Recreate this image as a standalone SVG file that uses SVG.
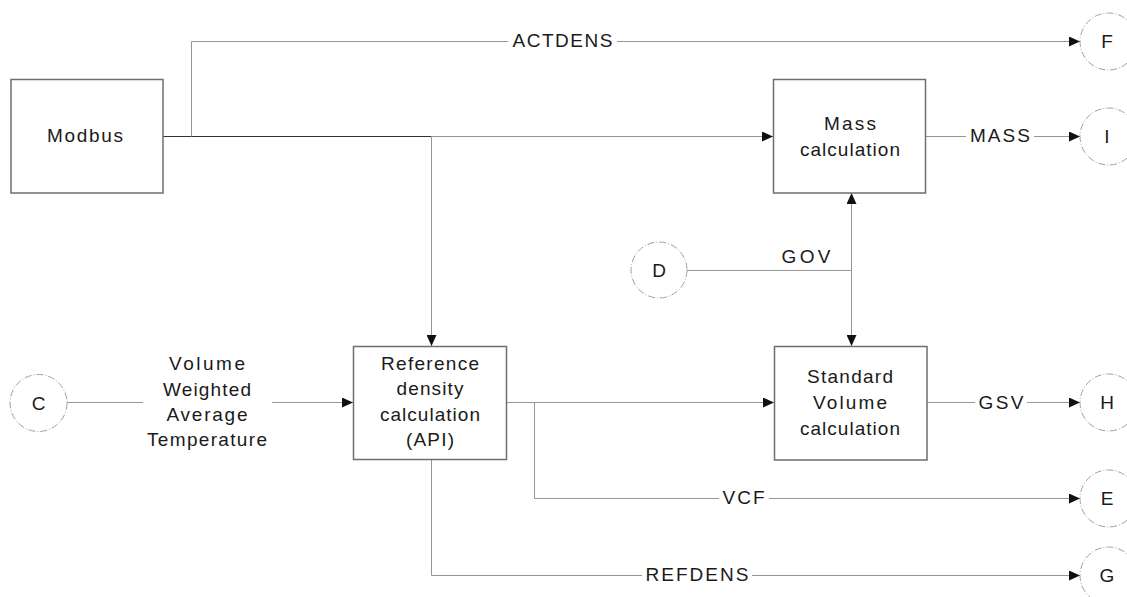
<svg xmlns="http://www.w3.org/2000/svg" width="1127" height="597" viewBox="0 0 1127 597">
<defs>
<marker id="arr" markerUnits="userSpaceOnUse" markerWidth="12" markerHeight="10" refX="11" refY="5" orient="auto">
<path d="M0,0 L11,5 L0,10 z" fill="#111"/>
</marker>
<style>
.box{fill:#fff;stroke:#6e6e6e;stroke-width:1.5}
.term{fill:#fff;stroke:#a0a0a0;stroke-width:1;stroke-dasharray:7 2 1 2}
.ln{fill:none;stroke:#959595;stroke-width:1}
.dk{fill:none;stroke:#333;stroke-width:1.2}
text{font-family:"Liberation Sans",Arial,sans-serif;font-size:19px;fill:#1a1a1a;text-anchor:middle}
</style>
</defs>
<rect width="1127" height="597" fill="#fff"/>
<g id="connectors">
<path class="dk" d="M163,136.5 H431.5"/>
<path class="ln" d="M431.5,136.5 H773" marker-end="url(#arr)"/>
<path class="ln" d="M191.5,136.5 V41.5 H508"/>
<path class="ln" d="M617,41.5 H1080" marker-end="url(#arr)"/>
<path class="ln" d="M431.5,136.5 V346" marker-end="url(#arr)"/>
<path class="ln" d="M926,136.5 H966"/>
<path class="ln" d="M1034,136.5 H1080" marker-end="url(#arr)"/>
<path class="ln" d="M687,270.5 H851.5"/>
<path class="ln" d="M851.5,270.5 V193" marker-end="url(#arr)"/>
<path class="ln" d="M851.5,270.5 V346" marker-end="url(#arr)"/>
<path class="ln" d="M67,402.5 H143"/>
<path class="ln" d="M272,402.5 H353" marker-end="url(#arr)"/>
<path class="ln" d="M506.5,402.5 H774" marker-end="url(#arr)"/>
<path class="ln" d="M534.5,402.5 V498.5 H719"/>
<path class="ln" d="M769,498.5 H1080" marker-end="url(#arr)"/>
<path class="ln" d="M431.5,459 V575.5 H642"/>
<path class="ln" d="M752,575.5 H1080" marker-end="url(#arr)"/>
<path class="ln" d="M927,402.5 H975"/>
<path class="ln" d="M1027,402.5 H1080" marker-end="url(#arr)"/>
<text x="562.5" y="46.5" textLength="100" lengthAdjust="spacing">ACTDENS</text>
<text x="1000" y="141.5" textLength="60" lengthAdjust="spacing">MASS</text>
<text x="806" y="262.5" textLength="49" lengthAdjust="spacing">GOV</text>
<text x="207" y="370" textLength="76" lengthAdjust="spacing">Volume</text>
<text x="207" y="395.5" textLength="88" lengthAdjust="spacing">Weighted</text>
<text x="207" y="420.5" textLength="81" lengthAdjust="spacing">Average</text>
<text x="207" y="446" textLength="120" lengthAdjust="spacing">Temperature</text>
<text x="1001" y="408.5" textLength="45" lengthAdjust="spacing">GSV</text>
<text x="743.5" y="504" textLength="42" lengthAdjust="spacing">VCF</text>
<text x="697" y="580.5" textLength="103" lengthAdjust="spacing">REFDENS</text>
</g>
<g id="modbus">
<rect class="box" x="11" y="79.5" width="152" height="113.5"/>
<text x="85" y="141.5" textLength="76" lengthAdjust="spacing">Modbus</text>
</g>
<g id="mass-calculation">
<rect class="box" x="773.5" y="79.5" width="152" height="113.5"/>
<text x="850" y="129.5" textLength="52" lengthAdjust="spacing">Mass</text>
<text x="850" y="155.5" textLength="100" lengthAdjust="spacing">calculation</text>
</g>
<g id="reference-density">
<rect class="box" x="353.5" y="346.5" width="153" height="113"/>
<text x="430" y="369.5" textLength="98" lengthAdjust="spacing">Reference</text>
<text x="430" y="395" textLength="67" lengthAdjust="spacing">density</text>
<text x="430" y="420.5" textLength="100" lengthAdjust="spacing">calculation</text>
<text x="430" y="446" textLength="48" lengthAdjust="spacing">(API)</text>
</g>
<g id="standard-volume">
<rect class="box" x="774.5" y="346.5" width="152.5" height="113.5"/>
<text x="850" y="382.5" textLength="86" lengthAdjust="spacing">Standard</text>
<text x="850" y="408.5" textLength="74" lengthAdjust="spacing">Volume</text>
<text x="850" y="434.5" textLength="100" lengthAdjust="spacing">calculation</text>
</g>
<g id="term-c">
<circle class="term" cx="38.5" cy="403" r="28.5"/>
<text x="38.5" y="409.5">C</text>
</g>
<g id="term-d">
<circle class="term" cx="659" cy="270" r="28"/>
<text x="659" y="276.5">D</text>
</g>
<g id="term-f">
<circle class="term" cx="1108.5" cy="41.5" r="28.5"/>
<text x="1107" y="48">F</text>
</g>
<g id="term-i">
<circle class="term" cx="1108.5" cy="136.5" r="28.5"/>
<text x="1107" y="143">I</text>
</g>
<g id="term-h">
<circle class="term" cx="1108.5" cy="402.5" r="28.5"/>
<text x="1107" y="409">H</text>
</g>
<g id="term-e">
<circle class="term" cx="1108.5" cy="498.5" r="28.5"/>
<text x="1107" y="505">E</text>
</g>
<g id="term-g">
<circle class="term" cx="1108.5" cy="575.5" r="28.5"/>
<text x="1107" y="582">G</text>
</g>
</svg>
